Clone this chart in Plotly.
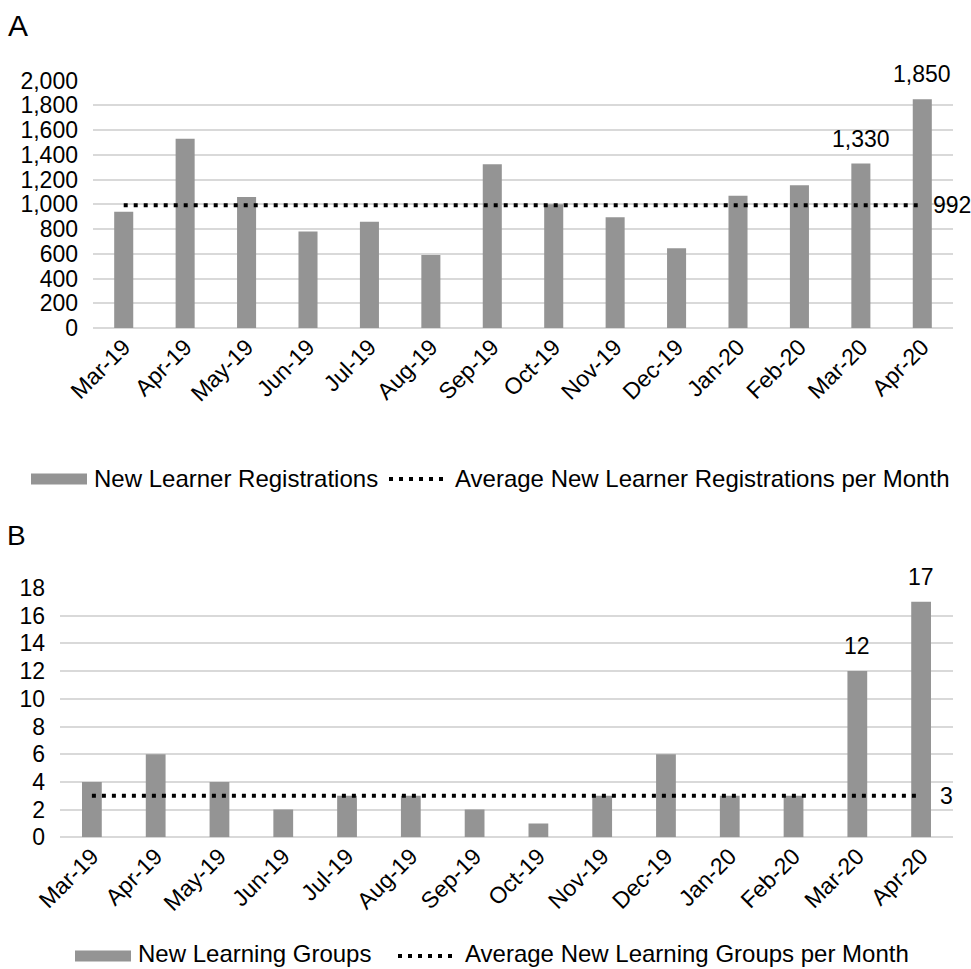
import plotly.graph_objects as go

# ---------------- data ----------------
months = ["Mar-19", "Apr-19", "May-19", "Jun-19", "Jul-19", "Aug-19", "Sep-19",
          "Oct-19", "Nov-19", "Dec-19", "Jan-20", "Feb-20", "Mar-20", "Apr-20"]
new_registrations = [940, 1530, 1060, 780, 860, 590, 1325, 1000, 895, 645, 1070, 1155, 1330, 1850]
avg_registrations = 992
new_groups = [4, 6, 4, 2, 3, 3, 2, 1, 3, 6, 3, 3, 12, 17]
avg_groups = 3
labeled_months = ["Mar-20", "Apr-20"]
reg_ticks = list(range(0, 2001, 200))
grp_ticks = list(range(0, 19, 2))

# ---------------- styling helpers ----------------
W, H = 971, 969
FONT = "Liberation Sans, Arial, Helvetica, sans-serif"
BAR = "#949494"
GRID = "#d9d9d9"


def px(x):
    return x / W


def py(y):
    return 1 - y / H


fig = go.Figure()

# Panel A
fig.add_trace(go.Bar(x=months, y=new_registrations, marker_color=BAR, marker_line_width=0,
                     name="New Learner Registrations", xaxis="x", yaxis="y", showlegend=False))
fig.add_trace(go.Scatter(x=months, y=[avg_registrations] * len(months), mode="lines",
                         line=dict(color="black", width=4, dash="4px,6px"),
                         name="Average New Learner Registrations per Month",
                         xaxis="x", yaxis="y", showlegend=False))
# Panel B
fig.add_trace(go.Bar(x=months, y=new_groups, marker_color=BAR, marker_line_width=0,
                     name="New Learning Groups", xaxis="x2", yaxis="y2", showlegend=False))
fig.add_trace(go.Scatter(x=months, y=[avg_groups] * len(months), mode="lines",
                         line=dict(color="black", width=4, dash="4px,6px"),
                         name="Average New Learning Groups per Month",
                         xaxis="x2", yaxis="y2", showlegend=False))

annotations = []
# value labels
for m in labeled_months:
    i = months.index(m)
    annotations.append(dict(x=m, y=new_registrations[i], xref="x", yref="y", text=f"{new_registrations[i]:,}",
                            showarrow=False, yanchor="bottom", yshift=10, font=dict(size=23)))
    annotations.append(dict(x=m, y=new_groups[i], xref="x2", yref="y2", text=f"{new_groups[i]:,}",
                            showarrow=False, yanchor="bottom", yshift=10, font=dict(size=23)))
# average labels
annotations.append(dict(x=months[-1], y=avg_registrations, xref="x", yref="y", text=f"{avg_registrations:,}",
                        showarrow=False, xanchor="left", xshift=9, font=dict(size=23)))
annotations.append(dict(x=months[-1], y=avg_groups, xref="x2", yref="y2", text=f"{avg_groups:,}",
                        showarrow=False, xanchor="left", xshift=17, font=dict(size=23)))
# panel letters
annotations.append(dict(x=px(6), y=py(25), xref="paper", yref="paper", text="A", showarrow=False,
                        xanchor="left", yanchor="middle", font=dict(size=30)))
annotations.append(dict(x=px(5), y=py(535), xref="paper", yref="paper", text="B", showarrow=False,
                        xanchor="left", yanchor="middle", font=dict(size=28)))

# manual legends
shapes = []
legend_specs = [
    # (swatch/dots y, text y, swatch x0, x1, text1 x, label1, dots x0, x1, text2 x, label2)
    (479, 478, 31, 87, 92, "New Learner Registrations", 389, 443, 453,
     "Average New Learner Registrations per Month"),
    (956, 953, 75, 131, 136, "New Learning Groups", 398, 454, 463,
     "Average New Learning Groups per Month"),
]
for ys, yt, sx0, sx1, tx1, lab1, dx0, dx1, tx2, lab2 in legend_specs:
    shapes.append(dict(type="rect", xref="paper", yref="paper", x0=px(sx0), x1=px(sx1),
                       y0=py(ys + 5.5), y1=py(ys - 5.5), fillcolor=BAR, line_width=0))
    shapes.append(dict(type="line", xref="paper", yref="paper", x0=px(dx0), x1=px(dx1),
                       y0=py(ys), y1=py(ys), line=dict(color="black", width=4, dash="4px,6px")))
    annotations.append(dict(x=px(tx1), y=py(yt), xref="paper", yref="paper", text=lab1, showarrow=False,
                            xanchor="left", yanchor="middle", font=dict(size=24)))
    annotations.append(dict(x=px(tx2), y=py(yt), xref="paper", yref="paper", text=lab2, showarrow=False,
                            xanchor="left", yanchor="middle", font=dict(size=24)))

xcommon = dict(type="category", tickangle=-45, tickfont=dict(size=23, color="black"), showgrid=False,
               showline=False, zeroline=False, ticks="", fixedrange=True, automargin=False,
               range=[-0.5, len(months) - 0.5])
ycommon = dict(showgrid=True, gridcolor=GRID, gridwidth=1.5, zeroline=True, zerolinecolor=GRID,
               zerolinewidth=1.5, showline=False, ticks="", tickfont=dict(size=23, color="black"),
               ticklabelstandoff=14, fixedrange=True, automargin=False)

fig.update_layout(
    width=W, height=H, autosize=False,
    margin=dict(l=0, r=0, t=0, b=0, pad=0, autoexpand=False),
    paper_bgcolor="white", plot_bgcolor="white",
    font=dict(family=FONT, color="black"),
    bargap=0.69,
    xaxis=dict(domain=[px(93), px(953)], anchor="y", **xcommon),
    yaxis=dict(domain=[py(328), py(80.7)], anchor="x", range=[0, 2000], tickvals=reg_ticks,
               tickformat=",", **ycommon),
    xaxis2=dict(domain=[px(60), px(953)], anchor="y2", **xcommon),
    yaxis2=dict(domain=[py(837.3), py(588)], anchor="x2", range=[0, 18], tickvals=grp_ticks, **ycommon),
    annotations=annotations,
    shapes=shapes,
    showlegend=False,
)

fig.write_html("out.html", config={"displayModeBar": False},
               post_script="document.body.style.margin='0px';document.body.style.overflow='hidden';")
